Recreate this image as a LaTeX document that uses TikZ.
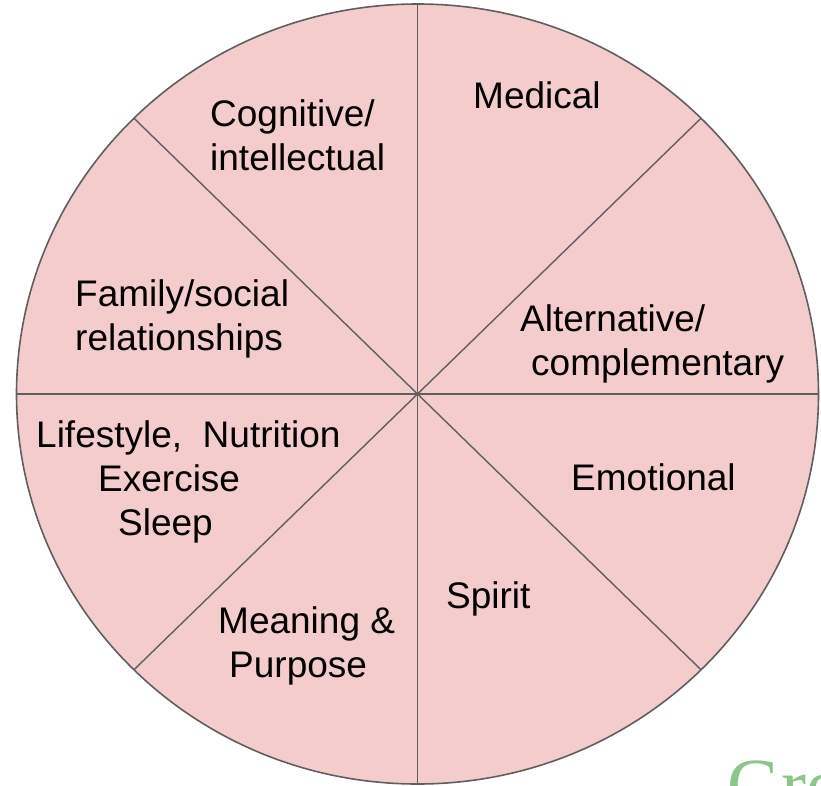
\documentclass[tikz,border=0pt]{standalone}
\usepackage{fontspec}
\setmainfont{Liberation Sans}
\newfontfamily\serifgreen{Liberation Serif}
\usepackage{xcolor}
\usepackage{tikz}
\usetikzlibrary{positioning}

\definecolor{wedgepink}{HTML}{F4CCCC}
\definecolor{rimgray}{HTML}{5F5F5F}
\definecolor{logogreen}{HTML}{8CC68A}

\begin{document}
\begin{tikzpicture}[x=1pt,y=-1pt,
    label/.style={anchor=base west,align=left,inner sep=0pt,
      font=\fontsize{37}{44}\selectfont},
    spoke/.style={draw=rimgray,line width=1.4pt}]
    \useasboundingbox (0,0) rectangle (821,785);
    \coordinate (c) at (417.5,394);
    % the wheel and its eight spokes
    \draw[fill=wedgepink,draw=rimgray,line width=1.6pt] (c) ellipse [x radius=401pt, y radius=390pt];
    \foreach \a in {0,45,...,315}
      \path (c) ++(\a:401pt and 390pt) coordinate (rim\a);
    \foreach \a in {0,45,...,315}
      \draw[spoke] (c) -- (rim\a);

    % labels sit on the baseline of their last line
    \node[label] (medical)     at (473,108) {Medical};
    \node[label] (cognitive)   at (210,170) {Cognitive/\\intellectual};
    \node[label] (family)      at (75,350)  {Family/social\\relationships};
    \node[label] (alternative) at (520,375) {Alternative/\\\hspace*{11pt}complementary};
    \node[label] (lifestyle)   at (36,535)  {Lifestyle,\ \ Nutrition\\\hspace*{62pt}Exercise\\\hspace*{82pt}Sleep};
    \node[label] (emotional)   at (571,490) {Emotional};
    \node[label] (spirit)      at (446,608) {Spirit};
    \node[label] (meaning)     at (218,677) {Meaning \&\\\hspace*{11pt}Purpose};

    \node[anchor=base west,inner sep=0pt,text=logogreen,font=\serifgreen\fontsize{75}{75}\selectfont] (gro) at (727,810) {Gro};
\end{tikzpicture}
\end{document}
